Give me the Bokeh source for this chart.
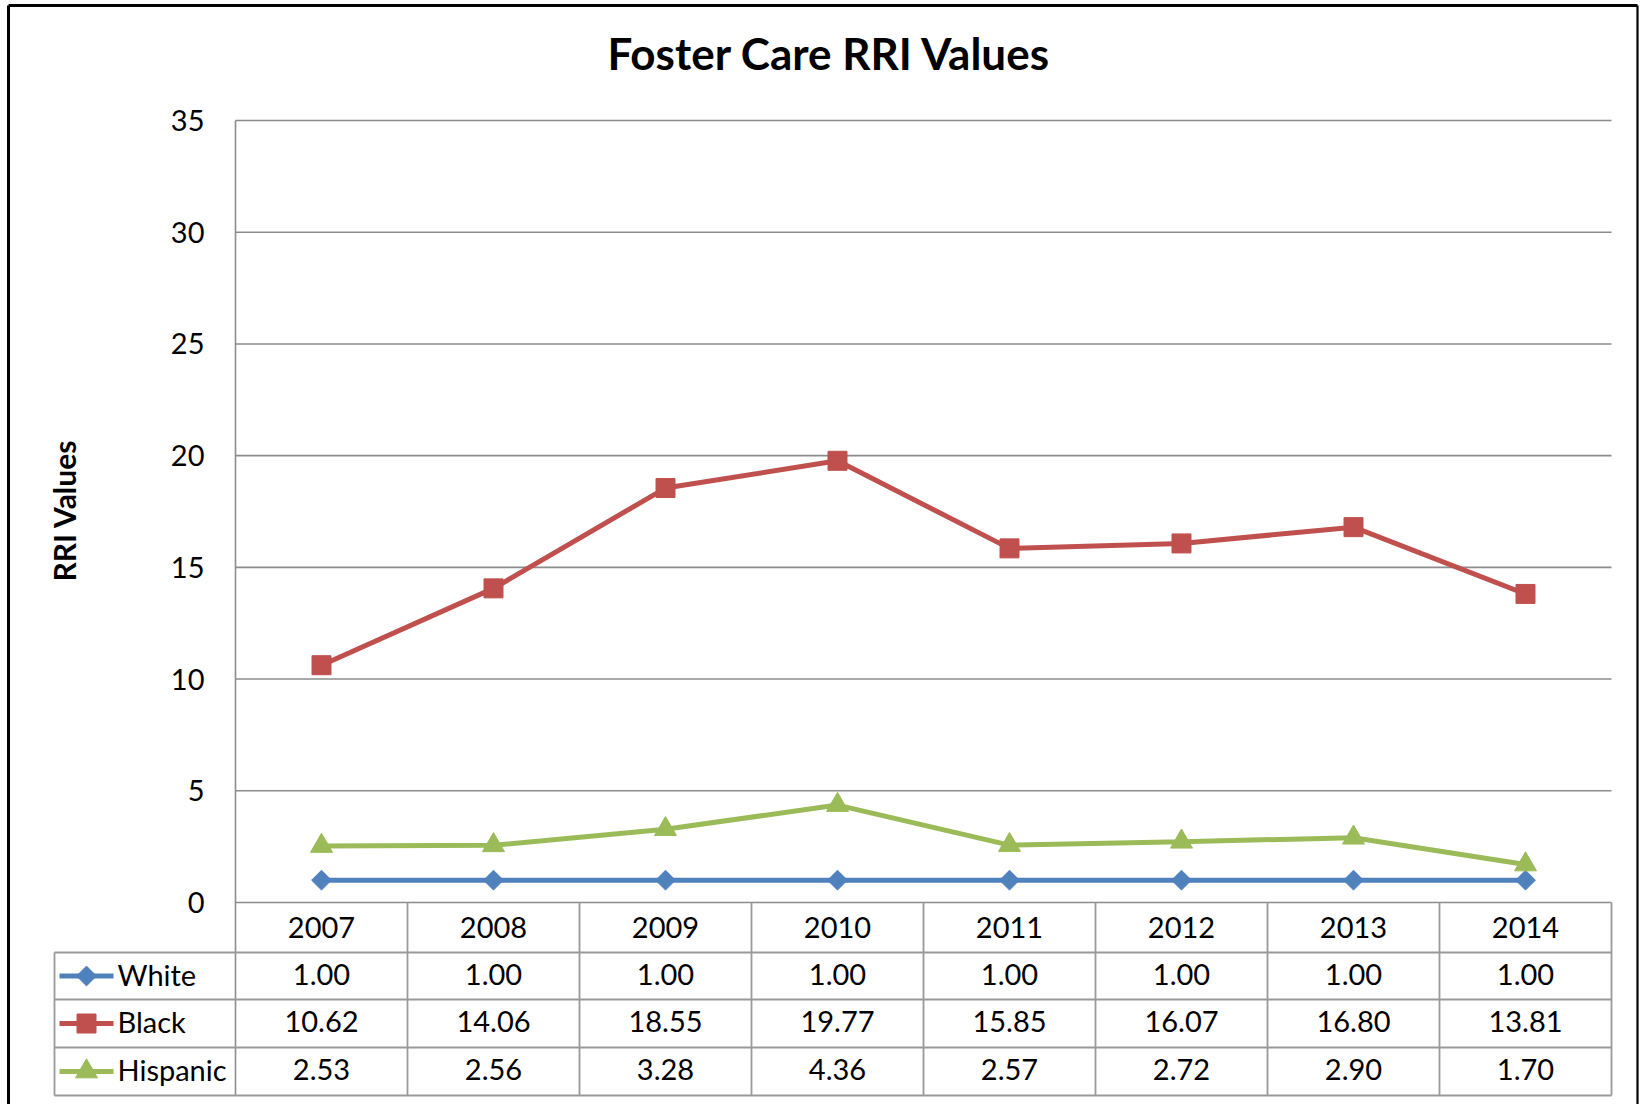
import math
from bokeh.plotting import figure
from bokeh.models import Range1d
from bokeh.core.properties import value
from bokeh.embed import file_html
from bokeh.resources import INLINE

# ---------------- data ----------------
years = ["2007", "2008", "2009", "2010", "2011", "2012", "2013", "2014"]
white = [1.00, 1.00, 1.00, 1.00, 1.00, 1.00, 1.00, 1.00]
black = [10.62, 14.06, 18.55, 19.77, 15.85, 16.07, 16.80, 13.81]
hispanic = [2.53, 2.56, 3.28, 4.36, 2.57, 2.72, 2.90, 1.70]
series_names = ["White", "Black", "Hispanic"]
y_ticks = [0, 5, 10, 15, 20, 25, 30, 35]
title_text = "Foster Care RRI Values"
y_title = "RRI Values"

# ---------------- layout (page pixels) ----------------
W, H = 1640, 1104
OX, OY = 0, 0
PL, PR, PT, PB = 235, 1611, 120, 902
YMAX = y_ticks[-1]
n = len(years)
ux = (PR - PL) / n
uy = (PB - PT) / YMAX


def px(page_x):
    return (page_x - PL) / ux


def py(page_y):
    return (PB - page_y) / uy


FONT = value("Lato")
GRID = "#8c8c8c"
TABLE = "#9a9a9a"
colors = ["#4F81BD", "#C0504D", "#9BBB59"]

p = figure(width=W, height=H,
           x_range=Range1d(px(OX), px(OX + W)),
           y_range=Range1d(py(OY + H), py(OY)),
           x_axis_location=None, y_axis_location=None,
           min_border=0, toolbar_location=None, output_backend="svg",
           outline_line_color=None, background_fill_color="white",
           border_fill_color="white")
p.grid.visible = False

# outer border (left, top, right)
bl, bt, br = px(8), py(5), px(1637)
bb = py(OY + H + 20)
p.segment(x0=[bl, bl], y0=[bb, bt], x1=[bl, br], y1=[bt, bt],
          line_color="black", line_width=3)
p.segment(x0=[br], y0=[bt], x1=[br], y1=[bb], line_color="black", line_width=2.2)

# horizontal gridlines
p.segment(x0=[0] * len(y_ticks), x1=[n] * len(y_ticks), y0=y_ticks, y1=y_ticks,
          line_color=GRID, line_width=1.6)

# table geometry
row_edges = [902, 952, 999, 1047, 1095]
ry = [py(v) for v in row_edges]
leg_left = px(54)

# vertical lines: y axis + category boundaries through the table
xs = list(range(n + 1))
p.segment(x0=xs[:1], x1=xs[:1], y0=[ry[-1]], y1=[YMAX], line_color=GRID, line_width=1.6)
p.segment(x0=xs[1:], x1=xs[1:], y0=[ry[0]] * n, y1=[ry[-1]] * n,
          line_color=TABLE, line_width=1.8)
p.segment(x0=[leg_left], x1=[leg_left], y0=[ry[1]], y1=[ry[-1]],
          line_color=TABLE, line_width=1.8)
# horizontal table lines
p.segment(x0=[leg_left] * 4, x1=[n] * 4, y0=ry[1:], y1=ry[1:],
          line_color=TABLE, line_width=1.8)

# y tick labels
p.text(x=[px(204)] * len(y_ticks), y=y_ticks, text=[str(t) for t in y_ticks],
       text_font=FONT, text_font_size="29px", text_align="right",
       text_baseline="middle", text_color="black")

# title
p.text(x=[px(829)], y=[py(52)], text=[title_text], text_font=FONT,
       text_font_size="44px", text_font_style="bold", text_align="center",
       text_baseline="middle", text_color="black")

# y axis title
p.text(x=[px(63)], y=[py(510)], text=[y_title], text_font=FONT,
       text_font_size="30px", text_font_style="bold", text_align="center",
       text_baseline="middle", angle=math.pi / 2, text_color="black")

# series
cx = [i + 0.5 for i in range(n)]
all_series = [white, black, hispanic]
markers = [dict(marker="square", size=14, angle=math.pi / 4),
           dict(marker="square", size=19, angle=0),
           dict(marker="triangle", size=22, angle=0)]
for vals, col, mk in zip(all_series, colors, markers):
    p.line(x=cx, y=vals, line_color=col, line_width=5)
    p.scatter(x=cx, y=vals, marker=mk["marker"], size=mk["size"], angle=mk["angle"],
              fill_color=col, line_color=col)

# table header (years)
hy = (ry[0] + ry[1]) / 2
p.text(x=cx, y=[hy] * n, text=years, text_font=FONT, text_font_size="29px",
       text_align="center", text_baseline="middle", text_color="black")

# table rows
lift = 2 / uy
for j, (name, vals, col, mk) in enumerate(zip(series_names, all_series, colors, markers)):
    yc = (ry[j + 1] + ry[j + 2]) / 2
    p.text(x=cx, y=[yc + lift] * n, text=[f"{v:.2f}" for v in vals], text_font=FONT,
           text_font_size="29px", text_align="center", text_baseline="middle",
           text_color="black")
    p.segment(x0=[px(59)], x1=[px(113)], y0=[yc], y1=[yc], line_color=col, line_width=5)
    p.scatter(x=[px(86)], y=[yc], marker=mk["marker"], size=mk["size"], angle=mk["angle"],
              fill_color=col, line_color=col)
    p.text(x=[px(117)], y=[yc + lift], text=[name], text_font=FONT, text_font_size="29px",
           text_align="left", text_baseline="middle", text_color="black")

open("out.html", "w").write(file_html(p, INLINE))
